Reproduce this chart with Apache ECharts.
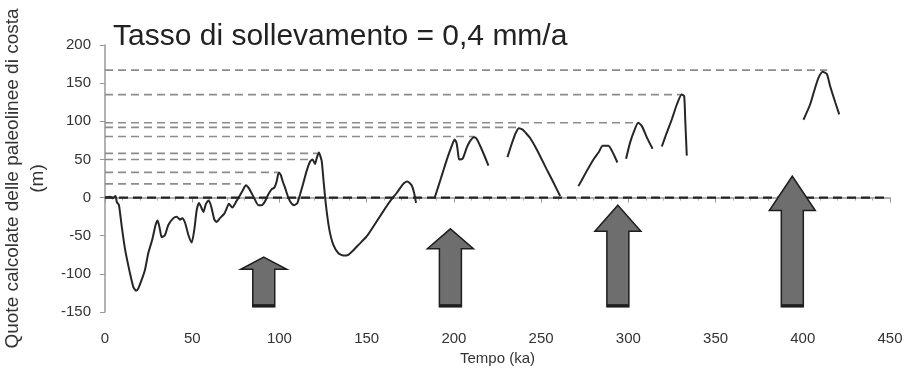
<!DOCTYPE html>
<html>
<head>
<meta charset="utf-8">
<script src="https://cdn.jsdelivr.net/npm/echarts@6/dist/echarts.min.js"></script>
<style>
  html, body { margin: 0; padding: 0; background: #fff; }
  #chart { width: 909px; height: 374px; }
</style>
</head>
<body>
<div id="chart"></div>
<script>
// curve pieces: [tempo (ka), quota (m)]
const seg1 = [[0,0],[3,1],[4.5,-1],[6,2],[6.8,-6],[8,-10],[9.6,-38],[11.5,-68],[14.3,-99],[16.2,-117],[17.8,-122],[19.1,-119],[21,-108],[22.9,-95],[24.8,-73],[27.1,-55],[29,-36],[30.2,-30],[31.5,-42],[32.5,-52],[34.4,-49],[36.3,-36],[39.2,-27],[41.1,-25],[43,-29],[44.3,-27],[45.9,-33],[47.8,-49],[49.7,-59],[51.2,-42],[52.6,-16],[53.9,-7],[55.4,-14],[56.4,-19],[57.9,-8],[59.3,-4],[60.8,-11],[62.7,-29],[64,-32],[65.9,-27],[68.4,-21],[69.8,-14],[71,-8],[73,-13],[75.5,-4],[77.4,3],[79.3,11],[80.8,16],[82.5,12],[85.4,0],[87.9,-10],[89.8,-10],[91.7,-5],[93.6,4],[95.6,11],[97.1,13],[98.4,21],[99.6,33],[100.7,30],[101.9,21],[103.2,13],[105.1,0],[107,-8],[108.5,-10],[110.3,-7],[111.8,4],[113.7,19],[115.6,35],[117.5,47],[119,50],[120.4,44],[121.4,52],[122.6,59],[124.2,48],[125.2,24],[126.7,-11],[128.6,-42],[130.9,-62],[133.8,-73],[136.6,-76],[139.5,-75],[142.4,-69],[145.3,-62],[150,-51],[155.8,-31],[161.5,-11],[164,-3],[167.2,6],[171,18],[173.3,21],[175.8,16],[177.2,6],[178.3,-7]];
const seg2 = [[189,0],[191,14],[193.5,32],[196,50],[198.5,66],[200.4,76],[201.5,72],[202.3,60],[203,50],[205,51],[207.3,65],[209,73],[211.5,79],[213,77],[216,63],[219.8,42]];
const seg3 = [[230.7,53],[232.5,66],[234,76],[235.5,85],[237.2,91],[239.4,89],[241.5,84],[243.7,78],[247.5,63],[253.2,37],[257,20],[260.9,2]];
const seg4 = [[271.4,15],[276.2,35],[280,50],[282.9,59],[285.3,68],[288.6,68],[291.5,57],[293.7,46]];
const seg5 = [[298.7,51],[301,72],[303.3,87],[305.6,98],[307.7,94],[310.6,79],[313.9,64]];
const seg6 = [[319.2,67],[321.7,83],[325,103],[327.8,122],[330.6,135],[332,133],[332.6,103],[333.5,55]];
const seg7 = [[400.4,102],[404.2,122],[407.1,144],[409,157],[411.4,165],[413.8,162],[415.7,146],[418.6,125],[420.9,109]];
const segments = [seg1, seg2, seg3, seg4, seg5, seg6, seg7];

// paleo shorelines (dashed guides): level and where each ends
const levelValues = [167, 135, 98, 92, 80, 58, 50, 33, 18];
const levelEnds = [414, 331, 305, 237, 212, 122, 117, 99, 78];
const zeroLineEnd = 447;

// uplift arrows: position, tip, head base, shaft foot
const arrowTimes = [91, 198, 294, 394];
const arrowTips = [-78, -41, -10, 28];
const arrowNecks = [-94, -67, -44, -17];
const arrowFoot = -143;

const chart = echarts.init(document.getElementById('chart'));

const levelSeries = levelValues.map((v, i) => ({
  type: 'line',
  data: [[0, v], [levelEnds[i], v]],
  symbol: 'none',
  silent: true,
  lineStyle: { color: '#8c8c8c', width: 1.6, type: [8, 5] },
  z: 1
}));

const curveSeries = segments.map(s => ({
  type: 'line',
  data: s,
  symbol: 'none',
  smooth: 0.2,
  silent: true,
  lineStyle: { color: '#262626', width: 2 },
  z: 3
}));

const arrowData = arrowTimes.map((t, i) => [t, arrowTips[i], arrowNecks[i], arrowFoot]);

const option = {
  animation: false,
  textStyle: { fontFamily: '"Liberation Sans", Arial, sans-serif' },
  title: {
    text: 'Tasso di sollevamento = 0,4 mm/a',
    left: 108,
    top: 17,
    textStyle: { fontSize: 30, fontWeight: 'normal', color: '#222' }
  },
  grid: { left: 105, right: 19, top: 45, bottom: 62, outerBoundsMode: 'none' },
  xAxis: {
    type: 'value',
    min: 0,
    max: 450,
    interval: 50,
    name: 'Tempo (ka)',
    nameLocation: 'middle',
    nameGap: 39,
    nameTextStyle: { fontSize: 15, color: '#333' },
    axisLine: { lineStyle: { color: '#999', width: 1.5 } },
    axisTick: { length: 5, lineStyle: { color: '#999' } },
    minorTick: { show: true, splitNumber: 5, length: 3, lineStyle: { color: '#aaa' } },
    axisLabel: { fontSize: 15, color: '#333', margin: 19 },
    splitLine: { show: false }
  },
  yAxis: {
    type: 'value',
    min: -150,
    max: 200,
    interval: 50,
    name: 'Quote calcolate delle paleolinee di costa\n(m)',
    nameLocation: 'middle',
    nameRotate: 90,
    nameGap: 52,
    nameTextStyle: { fontSize: 19, color: '#333', lineHeight: 25 },
    axisLine: { show: true, lineStyle: { color: '#999', width: 1.5 } },
    axisTick: { show: true, length: 5, lineStyle: { color: '#999' } },
    axisLabel: { fontSize: 15, color: '#333', margin: 14 },
    splitLine: { show: false }
  },
  series: [
    ...levelSeries,
    {
      type: 'line',
      data: [[0, 0], [zeroLineEnd, 0]],
      symbol: 'none',
      silent: true,
      lineStyle: { color: '#222', width: 2.2, type: [9, 5] },
      z: 2
    },
    ...curveSeries,
    {
      type: 'custom',
      data: arrowData,
      silent: true,
      z: 5,
      renderItem: function (params, api) {
        const tip = api.coord([api.value(0), api.value(1)]);
        const neck = api.coord([api.value(0), api.value(2)]);
        const foot = api.coord([api.value(0), api.value(3)]);
        const x = tip[0];
        const hw = 23, sw = 11;
        return {
          type: 'group',
          children: [
            {
              type: 'polygon',
              shape: {
                points: [
                  [x, tip[1]], [x + hw, neck[1]], [x + sw, neck[1]], [x + sw, foot[1]],
                  [x - sw, foot[1]], [x - sw, neck[1]], [x - hw, neck[1]]
                ]
              },
              style: { fill: '#6e6e6e', stroke: '#1e1e1e', lineWidth: 1.5 }
            },
            {
              type: 'line',
              shape: { x1: x - sw, y1: foot[1] - 1, x2: x + sw, y2: foot[1] - 1 },
              style: { stroke: '#1e1e1e', lineWidth: 3 }
            }
          ]
        };
      }
    }
  ]
};

chart.setOption(option);
</script>
</body>
</html>
